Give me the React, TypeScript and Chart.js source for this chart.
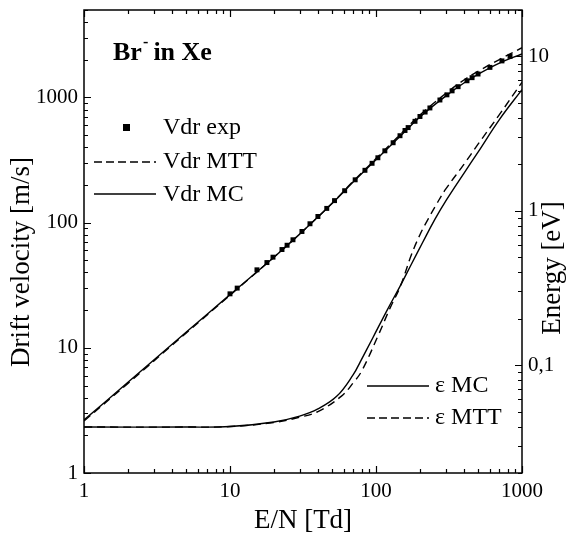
import React, { useEffect, useRef } from "react";
import { Chart, registerables } from "chart.js";

Chart.register(...registerables);

// E/N [Td] grid for drift-velocity curves
const EN_VDR = [1, 2, 5, 10, 20, 30, 50, 70, 100, 150, 200, 300, 400, 500, 700, 1000];
const VDR_MC = [2.65, 5.3, 13.3, 26.6, 53, 81, 142, 212, 318, 505, 700, 1025, 1305, 1530, 1880, 2230];
const VDR_MTT = [2.6, 5.2, 13.1, 26.3, 53, 81, 143, 215, 325, 520, 725, 1075, 1380, 1620, 2010, 2500];

// Experimental drift velocity
const EN_EXP = [10, 11.2, 15.3, 17.9, 19.7, 22.7, 24.6, 27, 31.1, 35.3, 40, 46, 52, 61, 72, 84, 94, 103, 115, 131, 146, 158, 166, 185, 200, 217, 234, 274, 306, 332, 365, 420, 455, 500, 603, 729, 828];
const VDR_EXP = [27, 30, 42, 48, 53, 61, 66, 73, 85, 98, 112, 130, 150, 180, 220, 262, 298, 330, 375, 435, 495, 545, 575, 645, 705, 765, 825, 955, 1050, 1130, 1220, 1360, 1440, 1540, 1740, 1960, 2130];

// Mean energy curves
const EN_EPS_MC = [1, 5, 10, 20, 30, 40, 54, 70, 78, 95, 120, 146, 175, 209, 253, 306, 400, 500, 700, 1000];
const EPS_MC = [0.0397, 0.0397, 0.04, 0.0428, 0.0467, 0.052, 0.063, 0.087, 0.105, 0.15, 0.23, 0.324, 0.452, 0.625, 0.88, 1.19, 1.75, 2.4, 3.9, 6.1];
const EN_EPS_MTT = [1, 5, 10, 20, 30, 40, 58, 70, 80, 103, 125, 146, 175, 200, 227, 262, 300, 400, 500, 700, 1000];
const EPS_MTT = [0.0397, 0.0397, 0.04, 0.0425, 0.046, 0.05, 0.063, 0.077, 0.092, 0.154, 0.235, 0.32, 0.52, 0.7, 0.88, 1.12, 1.38, 2.0, 2.7, 4.2, 6.8];

const X_TICKS = [1, 10, 100, 1000];
const Y_TICKS = [1, 10, 100, 1000];
const Y2_TICKS = [0.1, 1, 10];

const FONT = "'Liberation Serif', 'Times New Roman', serif";

const pts = (xs: number[], ys: number[]) => xs.map((x, i) => ({ x, y: ys[i] }));

const logTickValues = (min: number, max: number) => {
  const out: { v: number; major: boolean }[] = [];
  for (let e = -3; e <= 4; e++) {
    for (let m = 1; m <= 9; m++) {
      const v = m * Math.pow(10, e);
      if (v >= min * 0.9999 && v <= max * 1.0001) out.push({ v, major: m === 1 });
    }
  }
  return out;
};

const decorPlugin = {
  id: "decor",
  afterDraw(chart: any) {
    const { ctx, chartArea: a, scales } = chart;
    const x = scales.x, y = scales.y, y2 = scales.y2;
    ctx.save();
    ctx.strokeStyle = "#000";
    ctx.fillStyle = "#000";
    ctx.lineWidth = 1.2;
    // inward ticks
    ctx.beginPath();
    for (const t of logTickValues(1, 1000)) {
      const px = Math.round(x.getPixelForValue(t.v)) + 0.5;
      const len = t.major ? 7 : 4;
      ctx.moveTo(px, a.bottom); ctx.lineTo(px, a.bottom - len);
      ctx.moveTo(px, a.top); ctx.lineTo(px, a.top + len);
    }
    for (const t of logTickValues(1, 5000)) {
      const py = Math.round(y.getPixelForValue(t.v)) + 0.5;
      const len = t.major ? 7 : 4;
      ctx.moveTo(a.left, py); ctx.lineTo(a.left + len, py);
    }
    for (const t of logTickValues(0.02, 20)) {
      const py = Math.round(y2.getPixelForValue(t.v)) + 0.5;
      const len = t.major ? 7 : 4;
      ctx.moveTo(a.right, py); ctx.lineTo(a.right - len, py);
    }
    ctx.stroke();
    // frame
    ctx.lineWidth = 1.5;
    ctx.strokeRect(a.left, a.top, a.right - a.left, a.bottom - a.top);

    // axis titles
    ctx.font = `27px ${FONT}`;
    ctx.textAlign = "center";
    ctx.textBaseline = "middle";
    ctx.fillText("E/N [Td]", 303, 521);
    ctx.save();
    ctx.translate(22, 262);
    ctx.rotate(-Math.PI / 2);
    ctx.fillText("Drift velocity [m/s]", 0, 0);
    ctx.restore();
    ctx.save();
    ctx.translate(553, 268);
    ctx.rotate(-Math.PI / 2);
    ctx.fillText("Energy [eV]", 0, 0);
    ctx.restore();

    // title
    ctx.textAlign = "left";
    ctx.textBaseline = "alphabetic";
    ctx.font = `bold 26px ${FONT}`;
    ctx.fillText("Br", 113, 60);
    const wBr = ctx.measureText("Br").width;
    ctx.font = `bold 16px ${FONT}`;
    ctx.fillText("-", 113 + wBr + 1, 47);
    ctx.font = `bold 26px ${FONT}`;
    ctx.fillText(" in Xe", 113 + wBr + 5, 60);

    // legends
    ctx.font = `24px ${FONT}`;
    ctx.textBaseline = "middle";
    ctx.fillRect(123, 124, 7, 7);
    ctx.fillText("Vdr exp", 163, 128);
    ctx.lineWidth = 1.4;
    ctx.setLineDash([8, 4]);
    ctx.beginPath(); ctx.moveTo(94, 162); ctx.lineTo(156, 162); ctx.stroke();
    ctx.setLineDash([]);
    ctx.fillText("Vdr MTT", 163, 162);
    ctx.beginPath(); ctx.moveTo(94, 194); ctx.lineTo(156, 194); ctx.stroke();
    ctx.fillText("Vdr MC", 163, 195);

    ctx.beginPath(); ctx.moveTo(367, 386); ctx.lineTo(429, 386); ctx.stroke();
    ctx.fillText("\u03b5 MC", 435, 386);
    ctx.setLineDash([8, 4]);
    ctx.beginPath(); ctx.moveTo(367, 418); ctx.lineTo(429, 418); ctx.stroke();
    ctx.setLineDash([]);
    ctx.fillText("\u03b5 MTT", 435, 418);
    ctx.restore();
  },
};

export default function App() {
  const ref = useRef<HTMLCanvasElement | null>(null);
  useEffect(() => {
    if (!ref.current) return;
    const line = (data: any, yAxisID: string, dash: number[]) => ({
      data,
      yAxisID,
      showLine: true,
      borderColor: "#000",
      borderWidth: 1.4,
      borderDash: dash,
      pointRadius: 0,
      tension: 0.4,
      fill: false,
    });
    const fitV = (w: number) => (s: any) => {
      s.width = w;
      s.paddingTop = 0;
      s.paddingBottom = 0;
    };
    const chart = new Chart(ref.current, {
      type: "scatter",
      data: {
        datasets: [
          {
            data: pts(EN_EXP, VDR_EXP),
            yAxisID: "y",
            pointStyle: "rect",
            pointRadius: 3.5,
            backgroundColor: "#000",
            borderColor: "#000",
            borderWidth: 0,
            showLine: false,
            order: 0,
          } as any,
          { ...line(pts(EN_VDR, VDR_MTT), "y", [8, 5]), order: 1 },
          { ...line(pts(EN_VDR, VDR_MC), "y", []), order: 1 },
          { ...line(pts(EN_EPS_MC, EPS_MC), "y2", []), order: 1 },
          { ...line(pts(EN_EPS_MTT, EPS_MTT), "y2", [8, 5]), order: 1 },
        ],
      },
      options: {
        animation: false,
        responsive: false,
        layout: { padding: { top: 10, left: 0, right: 0, bottom: 0 } },
        plugins: { legend: { display: false }, tooltip: { enabled: false }, title: { display: false } },
        scales: {
          x: {
            type: "logarithmic",
            position: "bottom",
            min: 1,
            max: 1000,
            grid: { display: false, drawTicks: false },
            border: { display: false },
            afterFit: (s: any) => { s.height = 71; s.paddingLeft = 0; s.paddingRight = 0; },
            afterBuildTicks: (s: any) => { s.ticks = X_TICKS.map((v) => ({ value: v })); },
            ticks: {
              autoSkip: false,
              maxRotation: 0,
              padding: 6,
              color: "#000",
              font: { family: FONT, size: 21 },
              callback: (v: any) => String(v),
            },
          },
          y: {
            type: "logarithmic",
            position: "left",
            min: 1,
            max: 5000,
            grid: { display: false, drawTicks: false },
            border: { display: false },
            afterFit: fitV(84),
            afterBuildTicks: (s: any) => { s.ticks = Y_TICKS.map((v) => ({ value: v })); },
            ticks: {
              autoSkip: false,
              padding: 6,
              color: "#000",
              font: { family: FONT, size: 21 },
              callback: (v: any) => String(v),
            },
          },
          y2: {
            type: "logarithmic",
            position: "right",
            min: 0.02,
            max: 20,
            grid: { display: false, drawTicks: false },
            border: { display: false },
            afterFit: fitV(49),
            afterBuildTicks: (s: any) => { s.ticks = Y2_TICKS.map((v) => ({ value: v })); },
            ticks: {
              autoSkip: false,
              padding: 6,
              color: "#000",
              font: { family: FONT, size: 21 },
              callback: (v: any) => String(v).replace(".", ","),
            },
          },
        },
      } as any,
      plugins: [decorPlugin],
    });
    return () => chart.destroy();
  }, []);
  return (
    <div style={{ position: "fixed", left: 0, top: 0, width: 571, height: 544, background: "#fff" }}>
      <canvas ref={ref} width={571} height={544} />
    </div>
  );
}
